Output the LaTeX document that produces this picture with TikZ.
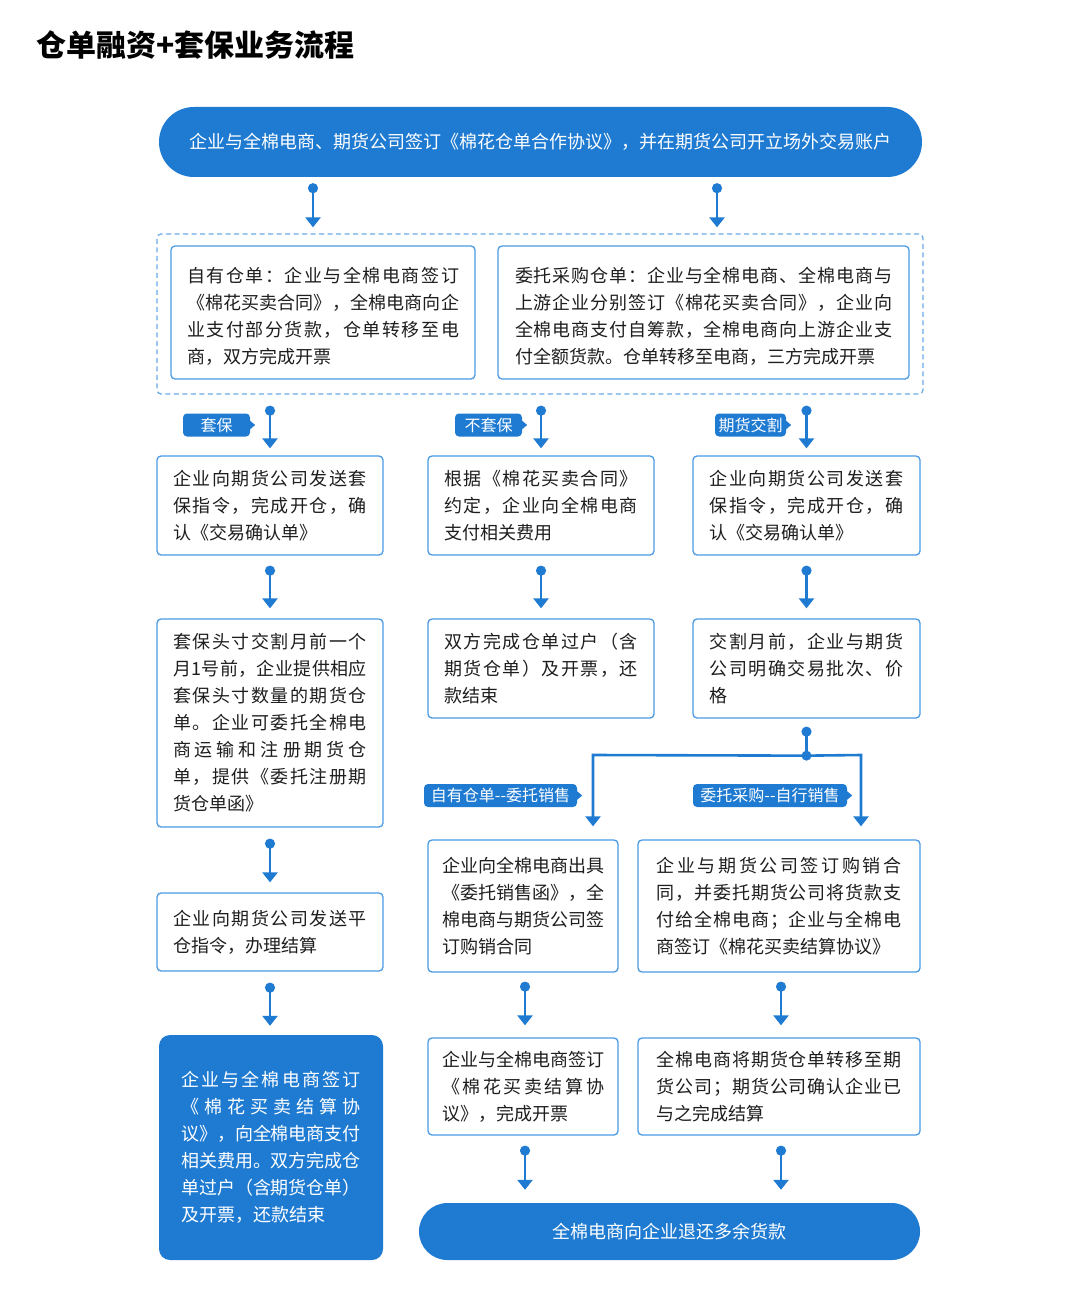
\documentclass[tikz,border=0pt]{standalone}
\usepackage{fontspec}
\setmainfont{Noto Sans CJK SC}
\usetikzlibrary{arrows.meta,calc}
\definecolor{mb}{HTML}{1F7BD2}
\definecolor{bd}{HTML}{4A9AE4}
\definecolor{dsh}{HTML}{6AAAE8}
\definecolor{txt}{HTML}{1E1E1E}
\newdimen\chsp \chsp=0pt
\def\spr#1{#1\sprr}
\def\sprr#1{\ifx\relax#1\else\hskip\chsp plus 20pt minus 1pt\relax#1\expandafter\sprr\fi}
\newcommand\J[1]{\leavevmode\hbox to\hsize{\spr#1\relax}}
\newcommand\N[1]{\leavevmode\spr#1\relax}
\newcommand\Up{\rule{0pt}{22pt}}
\newcommand\bodyf{\fontsize{18pt}{27pt}\selectfont}
\newcommand\tagptr[1]{\fill[mb] ($(#1.east)+(-1,-5)$) -- ($(#1.east)+(5,0)$) -- ($(#1.east)+(-1,5)$) -- cycle;}
\begin{document}
\begin{tikzpicture}[x=1pt,y=-1pt,
 box/.style={draw=bd, line width=1.3pt, rounded corners=4pt, fill=white, inner sep=0pt, align=left, text=txt, font=\bodyf},
 fbox/.style={fill=mb, rounded corners=11pt, inner sep=0pt, align=left, text=white, font=\bodyf},
 pill/.style={fill=mb, text=white, inner sep=0pt, font=\bodyf},
 tagn/.style={fill=mb, text=white, rounded corners=4pt, inner sep=0pt, minimum height=23pt, font=\fontsize{16pt}{18pt}\selectfont},
 arr/.style={draw=mb, line width=2.6pt, {Circle[length=10pt,width=10pt]}-{Triangle[width=15pt,length=10pt]}},
 ln/.style={draw=mb, line width=2.6pt},
]
\useasboundingbox (0,0) rectangle (1082,1308);
\fill[white] (0,0) rectangle (1082,1308);

\node[anchor=west, font=\fontsize{30pt}{36pt}\selectfont\bfseries, text=black, inner sep=0pt] (title) at (36,45) {仓单融资+套保业务流程};

\node[pill, rounded corners=34.9pt, minimum width=763pt, minimum height=70pt] (top) at (540.5,142) {\N{企业与全棉电商、期货公司签订《棉花仓单合作协议》，并在期货公司开立场外交易账户}};

\node[draw=dsh, dash pattern=on 5pt off 3.5pt, line width=1.3pt, rounded corners=4pt, minimum width=766pt, minimum height=160pt] (dash) at (540,314) {};

\node[box, minimum width=304pt, minimum height=133pt, text width=272pt] (r1a) at (323,312.5) {\Up\J{自有仓单：企业与全棉电商签订}\\\J{《棉花买卖合同》，全棉电商向企}\\\J{业支付部分货款，仓单转移至电}\\\N{商，双方完成开票}};
\node[box, minimum width=411pt, minimum height=133pt, text width=377pt] (r1b) at (703.5,312.5) {\Up\J{委托采购仓单：企业与全棉电商、全棉电商与}\\\J{上游企业分别签订《棉花买卖合同》，企业向}\\\J{全棉电商支付自筹款，全棉电商向上游企业支}\\\N{付全额货款。仓单转移至电商，三方完成开票}};

% row 2
\node[box, minimum width=226pt, minimum height=99pt, text width=194pt] (r2a) at (270,505.5) {\J{企业向期货公司发送套}\\\J{保指令，完成开仓，确}\\\N{认《交易确认单》}};
\node[box, minimum width=226pt, minimum height=99pt, text width=194pt] (r2b) at (541,505.5) {\J{根据《棉花买卖合同》}\\\J{约定，企业向全棉电商}\\\N{支付相关费用}};
\node[box, minimum width=227pt, minimum height=99pt, text width=194pt] (r2c) at (806.5,505.5) {\J{企业向期货公司发送套}\\\J{保指令，完成开仓，确}\\\N{认《交易确认单》}};

% row 3
\node[box, minimum width=226pt, minimum height=208pt, text width=194pt] (r3a) at (270,723) {\J{套保头寸交割月前一个}\\\J{月1号前，企业提供相应}\\\J{套保头寸数量的期货仓}\\\J{单。企业可委托全棉电}\\\J{商运输和注册期货仓}\\\J{单，提供《委托注册期}\\\N{货仓单函》}};
\node[box, minimum width=226pt, minimum height=99pt, text width=194pt] (r3b) at (541,668.5) {\J{双方完成仓单过户（含}\\\J{期货仓单）及开票，还}\\\N{款结束}};
\node[box, minimum width=227pt, minimum height=99pt, text width=194pt] (r3c) at (806.5,668.5) {\J{交割月前，企业与期货}\\\J{公司明确交易批次、价}\\\N{格}};

% row 4
\node[box, minimum width=226pt, minimum height=78pt, text width=194pt] (r4a) at (270,932) {\J{企业向期货公司发送平}\\\N{仓指令，办理结算}};
\node[box, minimum width=190pt, minimum height=132pt, text width=162pt] (r4b) at (523,906) {\J{企业向全棉电商出具}\\\J{《委托销售函》，全}\\\J{棉电商与期货公司签}\\\N{订购销合同}};
\node[box, minimum width=282pt, minimum height=132pt, text width=245pt] (r4c) at (779,906) {\J{企业与期货公司签订购销合}\\\J{同，并委托期货公司将货款支}\\\J{付给全棉电商；企业与全棉电}\\\N{商签订《棉花买卖结算协议》}};

% row 5
\node[fbox, minimum width=224pt, minimum height=225pt, text width=179pt] (r5a) at (271,1147.5) {\J{企业与全棉电商签订}\\\J{《棉花买卖结算协}\\\J{议》，向全棉电商支付}\\\J{相关费用。双方完成仓}\\\J{单过户（含期货仓单）}\\\N{及开票，还款结束}};
\node[box, minimum width=190pt, minimum height=97pt, text width=162pt] (r5b) at (523,1086.5) {\J{企业与全棉电商签订}\\\J{《棉花买卖结算协}\\\N{议》，完成开票}};
\node[box, minimum width=282pt, minimum height=97pt, text width=245pt] (r5c) at (779,1086.5) {\J{全棉电商将期货仓单转移至期}\\\J{货公司；期货公司确认企业已}\\\N{与之完成结算}};

\node[pill, rounded corners=28.4pt, minimum width=501pt, minimum height=57pt] (end) at (669.5,1231.5) {\N{全棉电商向企业退还多余货款}};

% tags
\node[tagn, minimum width=67pt] (t1) at (216.5,425) {套保};
\node[tagn, minimum width=67pt] (t2) at (488.5,425) {不套保};
\node[tagn, minimum width=71pt] (t3) at (750.5,425) {期货交割};
\node[tagn, minimum width=153pt] (t4) at (500.5,795.5) {自有仓单-{}-委托销售};
\node[tagn, minimum width=154pt] (t5) at (770,795.5) {委托采购-{}-自行销售};
\tagptr{t1}\tagptr{t2}\tagptr{t3}\tagptr{t4}\tagptr{t5}

% connectors
\draw[arr] ($(top.south)+(-227.5,6)$) -- ($(dash.north)+(-227,-6)$);
\draw[arr] ($(top.south)+(176.5,6)$) -- ($(dash.north)+(177,-6)$);
\draw[arr] ($(dash.south -| r2a.north)+(0,11)$) -- ($(r2a.north)+(0,-7)$);
\draw[arr] ($(dash.south -| r2b.north)+(0,11)$) -- ($(r2b.north)+(0,-7)$);
\draw[arr] ($(dash.south -| r2c.north)+(0,11)$) -- ($(r2c.north)+(0,-7)$);
\draw[arr] ($(r2a.south)+(0,10)$) -- ($(r3a.north)+(0,-10)$);
\draw[arr] ($(r2b.south)+(0,10)$) -- ($(r3b.north)+(0,-10)$);
\draw[arr] ($(r2c.south)+(0,10)$) -- ($(r3c.north)+(0,-10)$);
\draw[arr] ($(r3a.south)+(0,11)$) -- ($(r4a.north)+(0,-10)$);
\draw[arr] ($(r4a.south)+(0,11)$) -- ($(r5a.north)+(-1,-9)$);
\draw[arr] ($(r4b.south)+(2,9)$) -- ($(r5b.north)+(2,-12)$);
\draw[arr] ($(r4c.south)+(2,9)$) -- ($(r5c.north)+(2,-12)$);
\draw[arr] ($(r5b.south)+(2,10)$) -- ($(r5b.south |- end.north)+(2,-13)$);
\draw[arr] ($(r5c.south)+(2,10)$) -- ($(r5c.south |- end.north)+(2,-13)$);

% branch
\coordinate (jn) at ($(r3c.south)+(0,37)$);
\coordinate (jl) at (593,755);
\coordinate (jr) at (861,755);
\draw[ln, {Circle[length=10pt,width=10pt]}-] ($(r3c.south)+(0,8)$) -- (jn);
\draw[ln, -{Triangle[width=15pt,length=10pt]}] (jn) -- (jl) -- ($(jl |- r4b.north)+(0,-13)$);
\draw[ln, -{Triangle[width=15pt,length=10pt]}] (jn) -- (jr) -- ($(jr |- r4c.north)+(0,-13)$);
\fill[mb] (jn) circle (5pt);
\end{tikzpicture}
\end{document}
